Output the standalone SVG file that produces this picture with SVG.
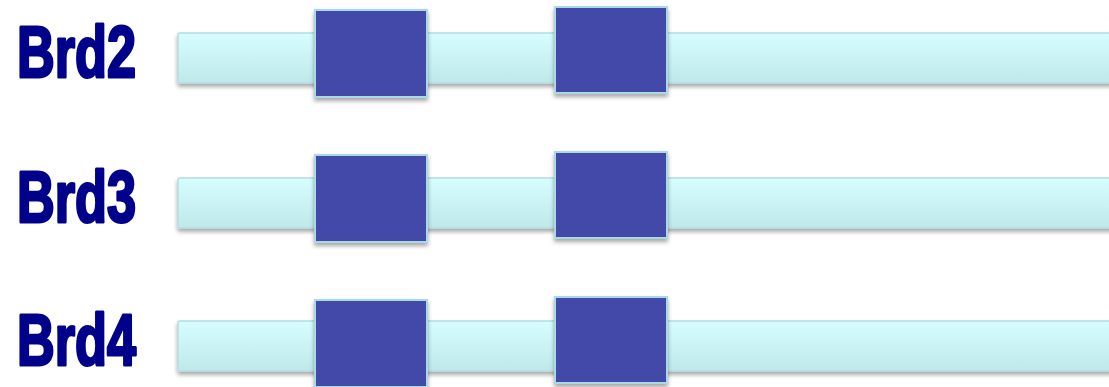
<svg xmlns="http://www.w3.org/2000/svg" width="1109" height="387" viewBox="0 0 1109 387">
  <defs>
    <linearGradient id="barGrad" x1="0" y1="0" x2="0" y2="1">
      <stop offset="0" stop-color="#d6feff"/>
      <stop offset="1" stop-color="#bfe8eb"/>
    </linearGradient>
    <filter id="shadow" x="-10%" y="-20%" width="120%" height="150%">
      <feDropShadow dx="0" dy="3" stdDeviation="2" flood-color="#000" flood-opacity="0.35"/>
    </filter>
    <style>
      .label { font-family: "Liberation Sans", Arial, sans-serif; font-weight: bold; font-size: 73px; fill: #00008a; stroke: #00008a; stroke-width: 3px; stroke-linejoin: round; }
      .bar { fill: url(#barGrad); stroke: #b5dde2; stroke-width: 1.5; filter: url(#shadow); }
      .box { fill: #4349a8; stroke: #a9d9e2; stroke-width: 2; filter: url(#shadow); }
    </style>
  </defs>

  <g id="row-brd2">
    <text class="label" x="17" y="77" textLength="119" lengthAdjust="spacingAndGlyphs">Brd2</text>
    <rect id="bar-brd2" class="bar" x="178" y="33" width="940" height="50" rx="2"/>
    <rect id="box-brd2-1" class="box" x="315" y="10" width="112" height="87"/>
    <rect id="box-brd2-2" class="box" x="555" y="7" width="112" height="86"/>
  </g>

  <g id="row-brd3">
    <text class="label" x="17" y="222" textLength="119" lengthAdjust="spacingAndGlyphs">Brd3</text>
    <rect id="bar-brd3" class="bar" x="178" y="178" width="940" height="50" rx="2"/>
    <rect id="box-brd3-1" class="box" x="315" y="155" width="112" height="87"/>
    <rect id="box-brd3-2" class="box" x="555" y="152" width="112" height="86"/>
  </g>

  <g id="row-brd4">
    <text class="label" x="17" y="365" textLength="119" lengthAdjust="spacingAndGlyphs">Brd4</text>
    <rect id="bar-brd4" class="bar" x="178" y="321" width="940" height="50" rx="2"/>
    <rect id="box-brd4-1" class="box" x="315" y="300" width="112" height="87"/>
    <rect id="box-brd4-2" class="box" x="555" y="297" width="112" height="86"/>
  </g>

  <g id="connectors"/>
</svg>
